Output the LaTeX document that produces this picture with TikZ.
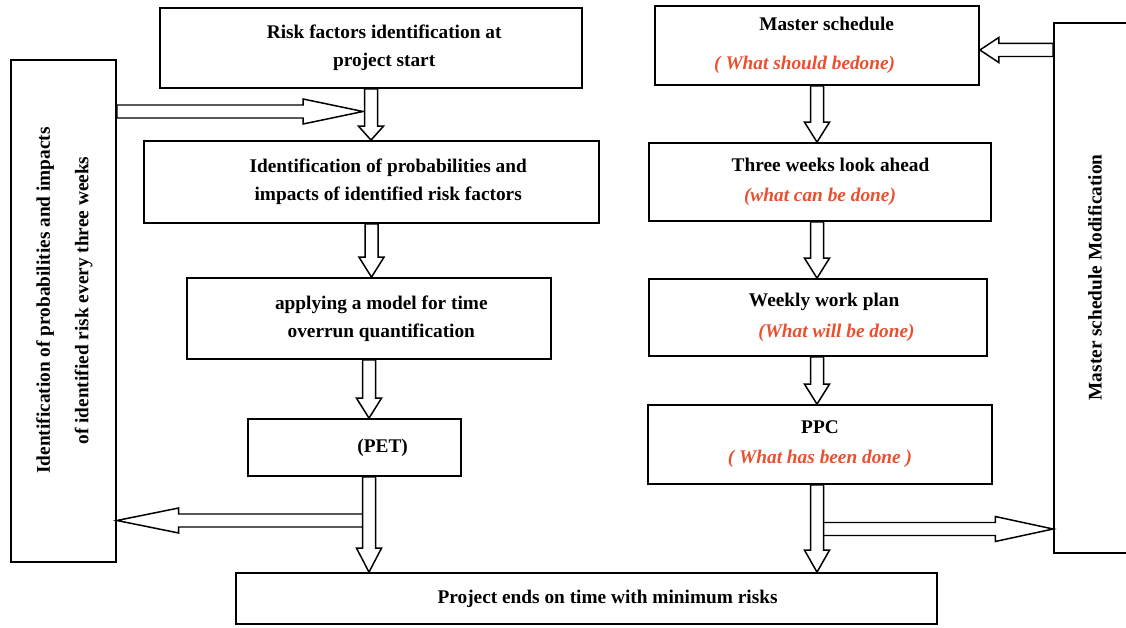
\documentclass[tikz,border=0pt]{standalone}
\usepackage{fontspec}
\setmainfont{Liberation Serif}
\usepackage{graphicx}
\usetikzlibrary{calc}
\definecolor{notered}{HTML}{E8502F}
\newcommand\doing[1]{{\color{notered}\itshape #1}}
% open block arrow from #2 to #3, head length #1 (px)
\newcommand\hollowarrow[3][20]{%
  \draw[hollow] let \p1=(#2), \p2=(#3),
    \n1={atan2(\y2-\y1,\x2-\x1)}, \n2={veclen(\x2-\x1,\y2-\y1)}, \n3={#1*0.5669}
    in [shift={(\p1)}, rotate=\n1]
    (0pt,3.7pt) -- ({(\n2-\n3)*1pt},3.7pt) -- ({(\n2-\n3)*1pt},7.1pt) -- ({\n2*1pt},0pt)
    -- ({(\n2-\n3)*1pt},-7.1pt) -- ({(\n2-\n3)*1pt},-3.7pt) -- (0pt,-3.7pt) -- cycle;}
\begin{document}
\begin{tikzpicture}[x=0.02cm,y=-0.02cm,
  box/.style={draw,line width=1pt,align=center,inner sep=0pt,
    font=\fontsize{11}{16}\selectfont\bfseries},
  hollow/.style={draw,fill=white,line width=0.85pt,line join=miter}]
\useasboundingbox (0,0) rectangle (1126,628);
% left column
\node[box,minimum width=8.44cm,minimum height=1.6cm] (risk) at (371,48)
  {\hspace*{15pt}Risk factors identification at\\\hspace*{15pt}project start};
\node[box,minimum width=9.1cm,minimum height=1.64cm] (prob) at (371.5,182)
  {\hspace*{19pt}Identification of probabilities and\\\hspace*{19pt}impacts of identified risk factors};
\node[box,minimum width=7.28cm,minimum height=1.62cm] (model) at (369,318.5)
  {\hspace*{14pt}applying a model for time\\\hspace*{14pt}overrun quantification};
\node[box,minimum width=4.26cm,minimum height=1.14cm] (pet) at (354.5,447.5)
  {\hspace*{32pt}(PET)};
\node[box,minimum width=14.02cm,minimum height=1.02cm] (ends) at (586.5,598.5)
  {\hspace*{24pt}Project ends on time with minimum risks};
% right column
\node[box,minimum width=6.48cm,minimum height=1.58cm] (master) at (817,45.5)
  {\hspace*{11pt}Master schedule\\[6pt]\hspace*{-14pt}\doing{( What should bedone)}};
\node[box,minimum width=6.84cm,minimum height=1.56cm] (three) at (820,182)
  {\hspace*{12pt}Three weeks look ahead\\[1pt]\doing{(what can be done)}};
\node[box,minimum width=6.76cm,minimum height=1.54cm] (weekly) at (818,317.5)
  {\hspace*{7pt}Weekly work plan\\[2pt]\hspace*{21pt}\doing{(What will be done)}};
\node[box,minimum width=6.88cm,minimum height=1.58cm] (ppc) at (820,444.5)
  {PPC\\[1pt]\doing{( What has been done )}};
% side boxes
\node[box,minimum width=2.1cm,minimum height=10.04cm] (left) at (63.5,311)
  {\rotatebox{90}{\hspace*{12pt}\begin{tabular}{@{}c@{}}Identification of probabilities and impacts\\[6pt]
   of identified risk every three weeks\end{tabular}}};
\node[box,minimum width=1.64cm,minimum height=10.6cm] (mod) at (1095,288)
  {\rotatebox{90}{\hspace*{12pt}Master schedule Modification}};
% side arrows
\coordinate (feed) at (363,111.5);
\coordinate (loopL) at (369,520.5);
\coordinate (loopR) at (818,529);
\hollowarrow[60]{left.east |- feed}{feed}
\hollowarrow[62]{loopL}{left.east |- loopL}
\hollowarrow[58]{loopR}{mod.west |- loopR}
\hollowarrow[19]{mod.west |- 0,50}{master.east |- 0,50}
% down arrows
\hollowarrow[14]{risk.south}{risk.south |- prob.north}
\hollowarrow{prob.south}{prob.south |- model.north}
\hollowarrow{model.south}{model.south |- pet.north}
\hollowarrow[24]{pet.south -| model.south}{ends.north -| model.south}
\hollowarrow{master.south}{master.south |- three.north}
\hollowarrow{three.south -| master.south}{weekly.north -| master.south}
\hollowarrow{weekly.south -| master.south}{ppc.north -| master.south}
\hollowarrow[22]{ppc.south -| master.south}{ends.north -| master.south}
\end{tikzpicture}
\end{document}
